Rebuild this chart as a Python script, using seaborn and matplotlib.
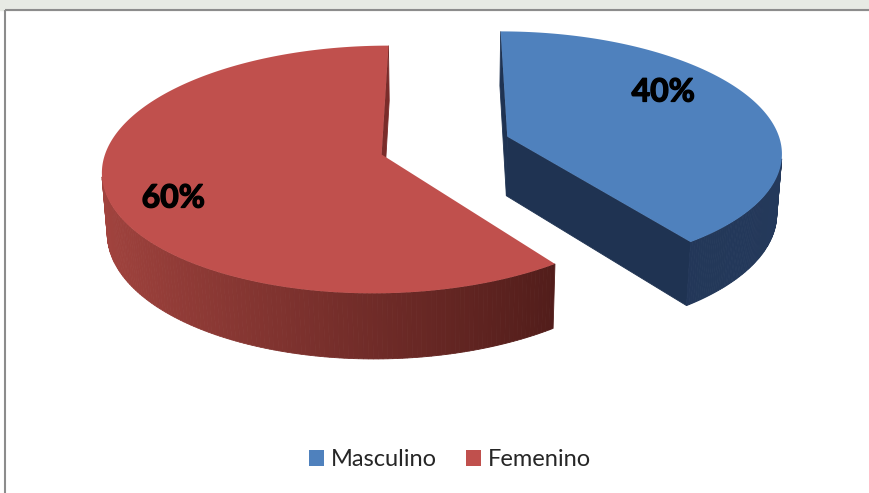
import numpy as np
import matplotlib
matplotlib.use("Agg")
import matplotlib.pyplot as plt
import matplotlib.patheffects as pe
import seaborn as sns
from matplotlib.patches import Polygon, Rectangle, Patch

# ── DATA ────────────────────────────────────────────────
categories = ['Masculino', 'Femenino']
values = [40, 60]

# ── STYLE ───────────────────────────────────────────────
top_colors = sns.color_palette(['#4F81BD', '#C0504D'])
side_light = ['#1E3150', '#A3443F']
side_dark = ['#24395B', '#3D1311']
radial_colors = ['#1F3352', '#7A2C2A']
label_polar = [(33, 0.73), (205.6, 0.79)]   # label angle / radius on each slice

sns.set_theme(style="white")
plt.rcParams['font.family'] = ['Lato', 'DejaVu Sans']

# 3D view of the pie (pixel-like units on the axes)
CX, CY = 445, 205
F = 2025
L = 7.5
PHI = np.radians(27.6)
H = 0.245
EXPLODE = 0.241
cphi, sphi = np.cos(PHI), np.sin(PHI)


def project(X, Y, D):
    depth = L + D * cphi - Y * sphi
    return CX + F * X / depth, CY - F * (Y * cphi + D * sphi) / depth


def lerp(c1, c2, t):
    a = np.array(matplotlib.colors.to_rgb(c1))
    b = np.array(matplotlib.colors.to_rgb(c2))
    return tuple(a + (b - a) * t)


fig = plt.figure(figsize=(8.69, 4.93), dpi=100)
ax = fig.add_axes([0, 0, 1, 1])
ax.set_xlim(0, 869)
ax.set_ylim(493, 0)
ax.axis('off')

# page background + chart frame (only top and left edges are on the page)
ax.add_patch(Rectangle((0, 0), 869, 9.5, color='#E7EAE4', zorder=0))
ax.plot([5, 869], [9.5, 9.5], color='#8C8C8C', lw=1.5, zorder=1,
        solid_capstyle='butt')
ax.plot([5, 5], [9.5, 493], color='#8C8C8C', lw=1.5, zorder=1,
        solid_capstyle='butt')

total = sum(values)
start = 90.0
slices = []
for i, v in enumerate(values):
    b = start
    a = start - v / total * 360
    start = a
    m = np.radians((a + b) / 2)
    ox, od = EXPLODE * np.cos(m), EXPLODE * np.sin(m)
    slices.append((i, a, b, ox, od))

# back slice first
slices.sort(key=lambda s: -s[4])
C = np.array([0, L * sphi, -L * cphi])

for i, a, b, ox, od in slices:
    z = 2 + (0 if od > 0 else 10)
    # radial faces
    for edge, psi in [(a, a - 90), (b, b + 90)]:
        e = np.radians(edge)
        n = np.array([np.cos(np.radians(psi)), 0, np.sin(np.radians(psi))])
        P = np.array([ox + 0.5 * np.cos(e), H / 2, od + 0.5 * np.sin(e)])
        if np.dot(n, P - C) < 0:
            pts = [project(ox, H, od),
                   project(ox + np.cos(e), H, od + np.sin(e)),
                   project(ox + np.cos(e), 0, od + np.sin(e)),
                   project(ox, 0, od)]
            ax.add_patch(Polygon(pts, closed=True, facecolor=radial_colors[i],
                                 edgecolor=radial_colors[i], lw=0.6, zorder=z))
    # outer curved side
    th = np.radians(np.linspace(a, b, 240))
    for t0, t1 in zip(th[:-1], th[1:]):
        tm = (t0 + t1) / 2
        dot = np.cos(tm) * ox + 1 + np.sin(tm) * (od + L * cphi)
        if dot >= 0:
            continue
        c = lerp(side_light[i], side_dark[i], (np.cos(tm) + 1) / 2)
        pts = [project(ox + np.cos(t0), H, od + np.sin(t0)),
               project(ox + np.cos(t1), H, od + np.sin(t1)),
               project(ox + np.cos(t1), 0, od + np.sin(t1)),
               project(ox + np.cos(t0), 0, od + np.sin(t0))]
        ax.add_patch(Polygon(pts, closed=True, facecolor=c, edgecolor=c,
                             lw=0.6, zorder=z + 1))
    # top face
    rim = [project(ox + np.cos(t), H, od + np.sin(t)) for t in th]
    ax.add_patch(Polygon([project(ox, H, od)] + rim, closed=True,
                         facecolor=top_colors[i], edgecolor='none', zorder=z + 2))
    # percentage label
    ang, r = label_polar[i]
    lx, ly = project(ox + r * np.cos(np.radians(ang)), H,
                     od + r * np.sin(np.radians(ang)))
    ax.text(lx, ly, f'{values[i] / total * 100:.0f}%', ha='center', va='center',
            fontsize=23, fontweight='bold', color='black', zorder=z + 3,
            path_effects=[pe.withStroke(linewidth=1.0, foreground='black')])

handles = [Patch(facecolor=top_colors[i], edgecolor='none') for i in range(len(values))]
fig.legend(handles, categories, loc='center', bbox_to_anchor=(450 / 869, 1 - 460 / 493),
           ncol=2, frameon=False, fontsize=17, handlelength=0.64, handleheight=0.64,
           handletextpad=0.3, columnspacing=1.2)

plt.savefig('out.png', dpi=100)
